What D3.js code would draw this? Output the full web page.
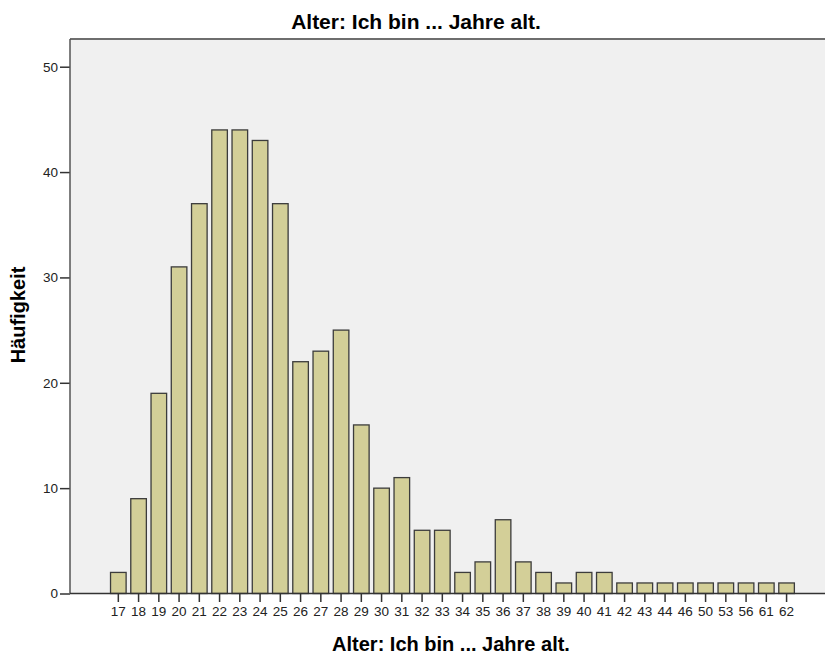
<!DOCTYPE html>
<html>
<head>
<meta charset="utf-8">
<script src="https://cdn.jsdelivr.net/npm/d3@7"></script>
<style>
  body { margin: 0; background: #fff; }
  text { font-family: "Liberation Sans", Arial, sans-serif; }
</style>
</head>
<body>
<script>
// Altersverteilung (Häufigkeiten)
var ages = ["17","18","19","20","21","22","23","24","25","26","27","28","29","30","31","32","33",
            "34","35","36","37","38","39","40","41","42","43","44","46","50","53","56","61","62"];
var counts = [2,9,19,31,37,44,44,43,37,22,23,25,16,10,11,6,6,
              2,3,7,3,2,1,2,2,1,1,1,1,1,1,1,1,1];
var yTicks = [0,10,20,30,40,50];

var W = 825, H = 654;
var plot = {left: 70, top: 39, right: 826, bottom: 593.5};

var svg = d3.select("body").append("svg")
    .attr("width", W)
    .attr("height", H);

var x = d3.scaleBand()
    .domain(ages)
    .range([108.2, 796.7])
    .paddingInner(0.23)
    .paddingOuter(0.115);

var y = d3.scaleLinear()
    .domain([0, 52.63])
    .range([plot.bottom, plot.top]);

// plot background
svg.append("rect")
    .attr("x", plot.left)
    .attr("y", plot.top)
    .attr("width", plot.right - plot.left)
    .attr("height", plot.bottom - plot.top)
    .attr("fill", "#f0f0f0");

// top border
svg.append("line")
    .attr("x1", plot.left).attr("x2", plot.right)
    .attr("y1", plot.top).attr("y2", plot.top)
    .attr("stroke", "#6e6e6e").attr("stroke-width", 2);

// bars
svg.append("g").selectAll("rect")
    .data(counts)
    .enter().append("rect")
    .attr("x", function(d, i) { return x(ages[i]); })
    .attr("y", function(d) { return y(d); })
    .attr("width", x.bandwidth())
    .attr("height", function(d) { return y(0) - y(d); })
    .attr("fill", "#d3cf98")
    .attr("stroke", "#3c3c3c")
    .attr("stroke-width", 1.3);

// y axis
var yAxis = svg.append("g")
    .attr("transform", "translate(" + plot.left + ",0)")
    .call(d3.axisLeft(y).tickValues(yTicks).tickSize(10).tickPadding(2));
yAxis.select(".domain").remove();
yAxis.append("line")
    .attr("x1", 0).attr("x2", 0)
    .attr("y1", plot.top).attr("y2", plot.bottom)
    .attr("stroke", "#555").attr("stroke-width", 1.5);

// x axis
var xAxis = svg.append("g")
    .attr("transform", "translate(0," + plot.bottom + ")")
    .call(d3.axisBottom(x).tickSize(8.5).tickPadding(4));
xAxis.select(".domain").remove();
xAxis.append("line")
    .attr("x1", plot.left).attr("x2", plot.right)
    .attr("y1", 0).attr("y2", 0)
    .attr("stroke", "#333").attr("stroke-width", 1.5);

svg.selectAll(".tick line").attr("stroke", "#333").attr("stroke-width", 1.5);
svg.selectAll(".tick text")
    .attr("fill", "#222")
    .style("font-size", "13.5px")
    .style("font-family", "Liberation Sans, Arial, sans-serif");

// title and labels
svg.append("text")
    .attr("x", 416).attr("y", 29)
    .attr("text-anchor", "middle")
    .style("font-size", "21px").style("font-weight", "bold")
    .text("Alter: Ich bin ... Jahre alt.");

svg.append("text")
    .attr("x", 451).attr("y", 651)
    .attr("text-anchor", "middle")
    .style("font-size", "20px").style("font-weight", "bold")
    .text("Alter: Ich bin ... Jahre alt.");

svg.append("text")
    .attr("transform", "translate(25,315) rotate(-90)")
    .attr("text-anchor", "middle")
    .style("font-size", "20px").style("font-weight", "bold")
    .text("Häufigkeit");
</script>
</body>
</html>
